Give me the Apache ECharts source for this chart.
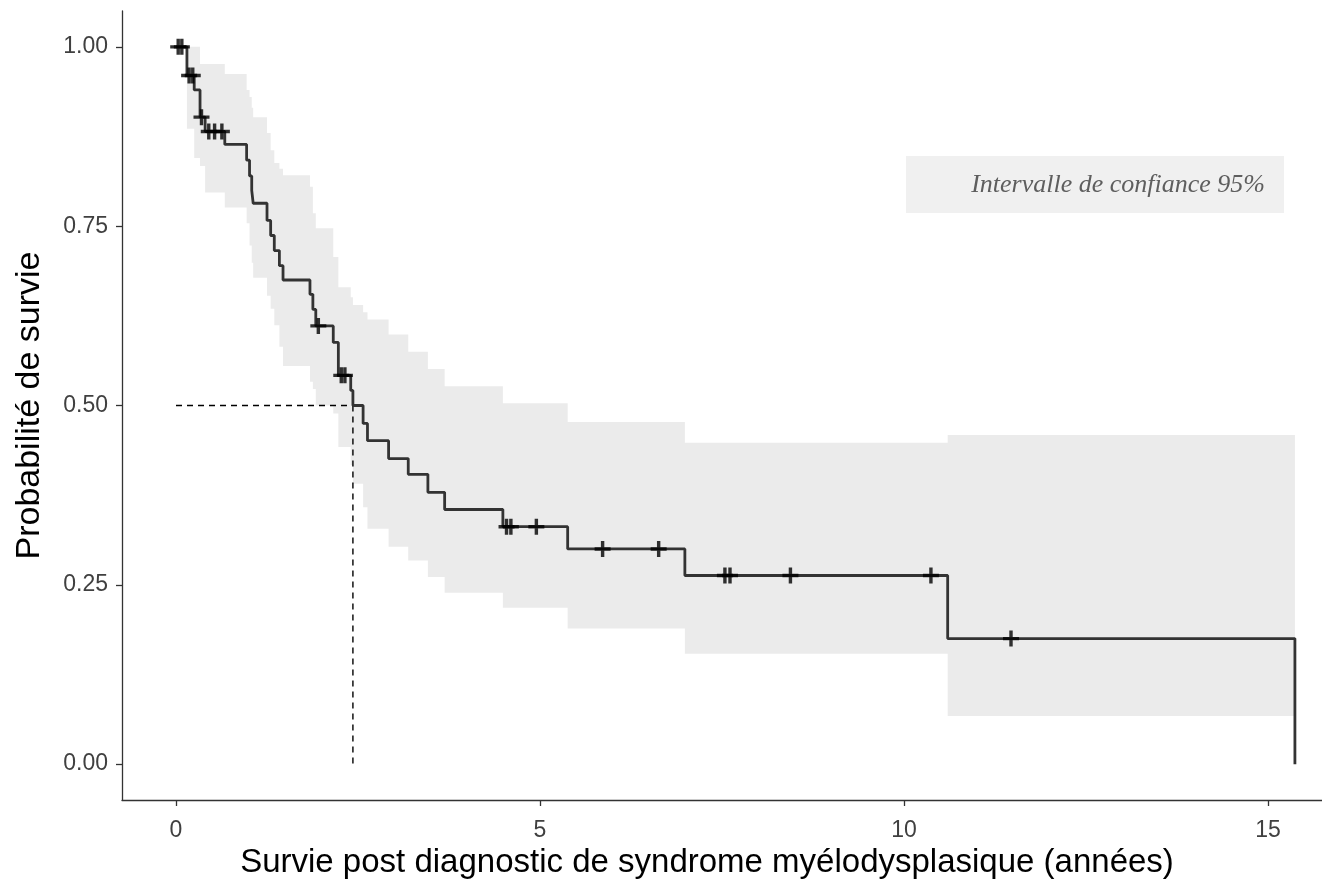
<!DOCTYPE html>
<html>
<head>
<meta charset="utf-8">
<script src="https://cdn.jsdelivr.net/npm/echarts@6/dist/echarts.min.js"></script>
<style>
  html, body { margin: 0; padding: 0; background: #ffffff; }
  #chart { width: 1322px; height: 886px; }
</style>
</head>
<body>
<div id="chart"></div>
<script>
// ---- Kaplan-Meier steps (time in years, survival after the step) ----
const kmTimes = [0, 0.15, 0.25, 0.33, 0.40, 0.67, 0.97, 1.01, 1.04, 1.06, 1.25, 1.30, 1.35, 1.42, 1.47, 1.84, 1.88, 1.92, 2.16, 2.23, 2.40, 2.43, 2.57, 2.63, 2.92, 3.19, 3.46, 3.69, 4.49, 5.38, 6.99, 10.60, 15.37];
const kmSurv  = [1.000, 0.960, 0.940, 0.902, 0.882, 0.864, 0.842, 0.820, 0.800, 0.782, 0.758, 0.737, 0.716, 0.695, 0.675, 0.655, 0.634, 0.611, 0.588, 0.542, 0.521, 0.500, 0.475, 0.451, 0.426, 0.404, 0.379, 0.355, 0.331, 0.300, 0.263, 0.175, 0.000];
// 95% confidence band (value in force from kmTimes[i] to kmTimes[i+1])
const ciUpper = [1.000, 1.000, 1.000, 0.976, 0.976, 0.962, 0.940, 0.930, 0.915, 0.902, 0.880, 0.856, 0.838, 0.830, 0.821, 0.805, 0.768, 0.747, 0.707, 0.665, 0.651, 0.640, 0.630, 0.620, 0.599, 0.575, 0.551, 0.527, 0.503, 0.477, 0.448, 0.459];
const ciLower = [1.000, 0.886, 0.845, 0.834, 0.797, 0.776, 0.754, 0.723, 0.699, 0.678, 0.653, 0.635, 0.612, 0.582, 0.555, 0.533, 0.523, 0.500, 0.489, 0.442, 0.417, 0.391, 0.358, 0.328, 0.303, 0.284, 0.261, 0.239, 0.218, 0.189, 0.154, 0.067];
// censored observations
const censorTimes = [0.03, 0.08, 0.18, 0.23, 0.35, 0.45, 0.53, 0.63, 1.955, 2.27, 2.32, 4.54, 4.60, 4.95, 5.86, 6.63, 7.54, 7.61, 8.44, 10.37, 11.47];
const censorSurv  = [1.000, 1.000, 0.960, 0.960, 0.902, 0.882, 0.882, 0.882, 0.611, 0.542, 0.542, 0.331, 0.331, 0.331, 0.300, 0.300, 0.263, 0.263, 0.263, 0.263, 0.175];
// median survival
const medianTime = 2.43;
const medianSurv = 0.5;
// axis ticks
const xTicks = [0, 5, 10, 15];
const yTicks = [0, 0.25, 0.5, 0.75, 1];
const xTitle = 'Survie post diagnostic de syndrome myélodysplasique (années)';
const yTitle = 'Probabilité de survie';
const legendText = 'Intervalle de confiance 95%';

const kmData = kmTimes.map((t, i) => [t, kmSurv[i]]);
const censorData = censorTimes.map((t, i) => [t, censorSurv[i]]);
const bandRows = ciUpper.map((u, i) => [kmTimes[i], kmTimes[i + 1], ciLower[i], u]);

const chart = echarts.init(document.getElementById('chart'), null, { renderer: 'canvas' });
const sans = '"Liberation Sans", Arial, sans-serif';
const plusPath = 'path://M-1.6,-7.5H1.6V-1.6H7.5V1.6H1.6V7.5H-1.6V1.6H-7.5V-1.6H-1.6Z';

chart.setOption({
  animation: false,
  backgroundColor: '#ffffff',
  grid: { left: 122, right: 0, top: 11, bottom: 86, containLabel: false },
  xAxis: {
    type: 'value', min: -0.742, max: 15.742,
    axisLine: { onZero: false, lineStyle: { color: '#333333', width: 1.3 } },
    axisTick: { customValues: xTicks, length: 6, lineStyle: { color: '#333333', width: 1.3 } },
    axisLabel: { customValues: xTicks, margin: 19, color: '#404040', fontSize: 23, fontFamily: sans },
    splitLine: { show: false },
    name: xTitle, nameLocation: 'middle', nameGap: 44,
    nameTextStyle: { color: '#000000', fontSize: 33, fontFamily: sans, padding: [0, 30, 0, 0] }
  },
  yAxis: {
    type: 'value', min: -0.05, max: 1.05,
    axisLine: { onZero: false, lineStyle: { color: '#333333', width: 1.3 } },
    axisTick: { customValues: yTicks, length: 6, lineStyle: { color: '#333333', width: 1.3 } },
    axisLabel: { customValues: yTicks, margin: 14, color: '#404040', fontSize: 23, fontFamily: sans,
                 formatter: v => v.toFixed(2) },
    splitLine: { show: false },
    name: yTitle, nameLocation: 'middle', nameGap: 75, nameRotate: 90,
    nameTextStyle: { color: '#000000', fontSize: 34, fontFamily: sans }
  },
  series: [
    {
      type: 'custom',
      name: 'band',
      silent: true,
      z: 1,
      data: bandRows,
      renderItem: function (params, api) {
        if (params.dataIndex !== 0) return null;
        const pts = [];
        for (let i = 0; i < bandRows.length; i++) {
          pts.push(api.coord([bandRows[i][0], bandRows[i][3]]));
          pts.push(api.coord([bandRows[i][1], bandRows[i][3]]));
        }
        for (let i = bandRows.length - 1; i >= 0; i--) {
          pts.push(api.coord([bandRows[i][1], bandRows[i][2]]));
          pts.push(api.coord([bandRows[i][0], bandRows[i][2]]));
        }
        return { type: 'polygon', shape: { points: pts }, style: { fill: '#ebebeb', stroke: null } };
      }
    },
    {
      type: 'line', name: 'median-h', z: 2, silent: true, symbol: 'none',
      data: [[0, medianSurv], [medianTime, medianSurv]],
      lineStyle: { color: '#000000', width: 1.4, type: [6, 5] }
    },
    {
      type: 'line', name: 'median-v', z: 2, silent: true, symbol: 'none',
      data: [[medianTime, medianSurv], [medianTime, 0]],
      lineStyle: { color: '#000000', width: 1.4, type: [6, 5] }
    },
    {
      type: 'line', name: 'km', z: 3, silent: true, symbol: 'none', step: 'end',
      data: kmData,
      lineStyle: { color: '#333333', width: 2.8 }
    },
    {
      type: 'scatter', name: 'censor', z: 4, silent: true,
      symbol: plusPath, symbolSize: 16,
      itemStyle: { color: '#000000' },
      data: censorData
    }
  ],
  graphic: [
    { type: 'rect', z: 10, shape: { x: 906, y: 156, width: 378, height: 57 }, style: { fill: '#f0f0f0' } },
    { type: 'text', z: 11, x: 1265, y: 185,
      style: { text: legendText, fill: '#5e5e5e', align: 'right', verticalAlign: 'middle',
               font: 'italic 26px "Liberation Serif", "DejaVu Serif", serif' } }
  ]
});
</script>
</body>
</html>
